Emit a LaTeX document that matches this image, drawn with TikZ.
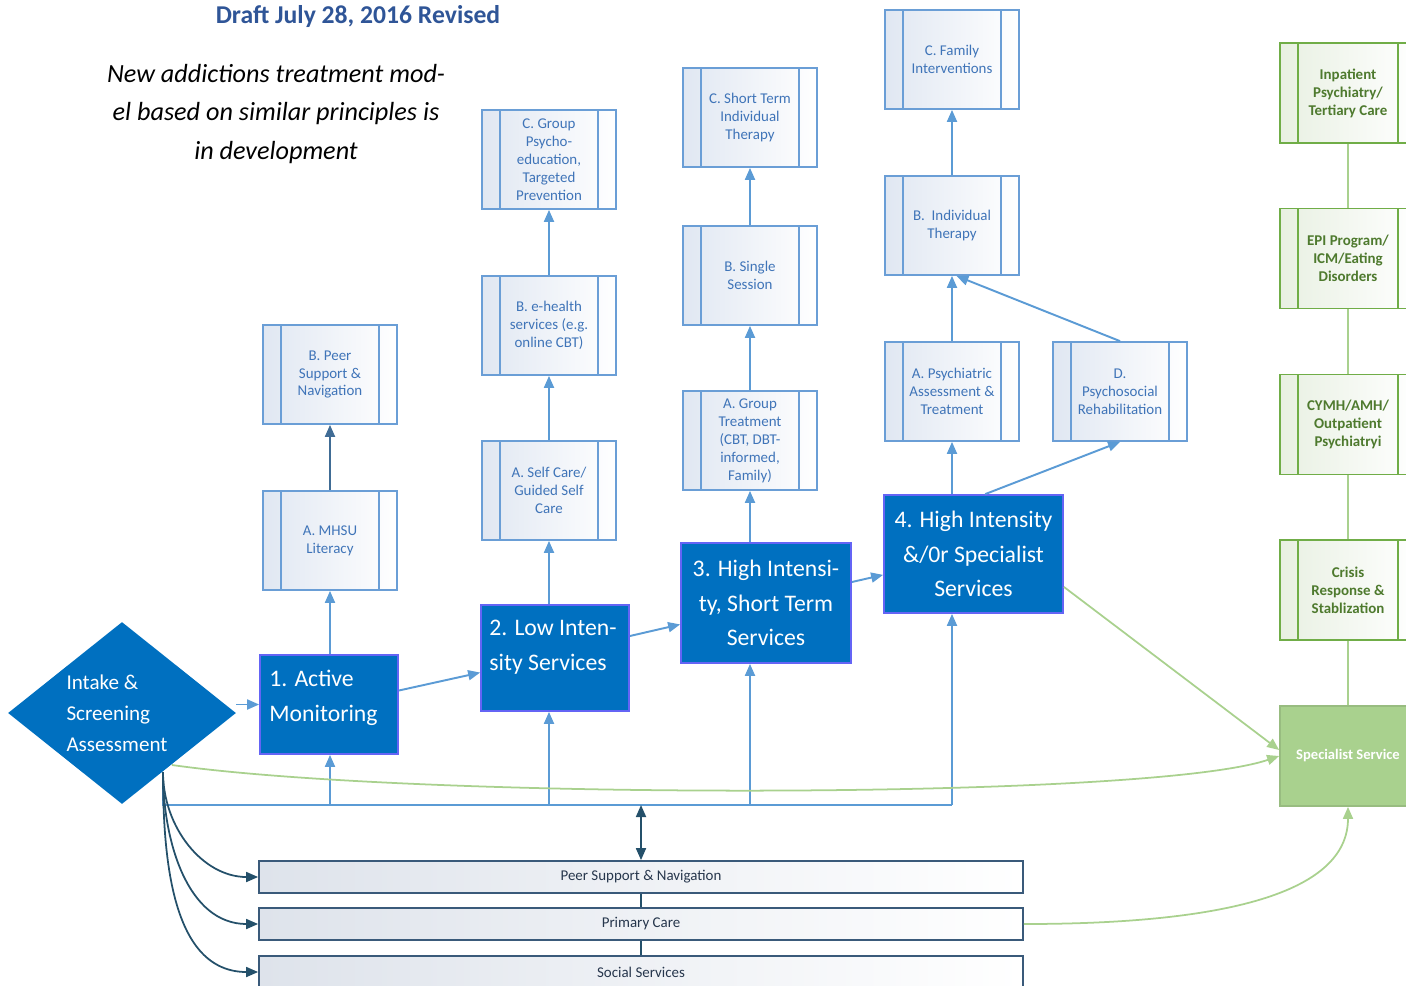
\documentclass[tikz,border=0pt]{standalone}
\usepackage{fontspec}
\setmainfont{Carlito}
\usetikzlibrary{shapes.geometric,arrows.meta}
\definecolor{stageblue}{HTML}{0070C0}
\definecolor{stageedge}{HTML}{6464F5}
\definecolor{linkblue}{HTML}{5B9BD5}
\definecolor{subedge}{HTML}{6A9ED6}
\definecolor{subtext}{HTML}{3F74B8}
\definecolor{subfill}{HTML}{E0E7F2}
\definecolor{grnedge}{HTML}{70AD47}
\definecolor{grntext}{HTML}{4E7A2E}
\definecolor{grnlink}{HTML}{A9D18E}
\definecolor{grnfill}{HTML}{E8F0E2}
\definecolor{baredge}{HTML}{3A5A7A}
\definecolor{bartext}{HTML}{26364C}
\definecolor{barfill}{HTML}{DEE3EB}
\definecolor{darklink}{HTML}{24506A}
\definecolor{titleblue}{HTML}{2F5597}
\tikzset{
  stage/.style={draw=stageedge, line width=1pt, fill=stageblue, text=white,
    font=\fontsize{13.5}{19.8}\selectfont, inner sep=0pt},
  stagetext/.style={text=white, font=\fontsize{13.5}{19.8}\selectfont, inner sep=0pt, align=left, anchor=west},
  subbox/.style={draw=subedge, line width=1pt, left color=subfill, right color=white,
    text=subtext, font=\fontsize{8.5}{10.2}\selectfont, align=center, inner sep=0pt,
    minimum width=26.8mm, minimum height=19.8mm,
    path picture={\draw[subedge, line width=1pt]
      ([xshift=3.6mm]path picture bounding box.north west) -- ([xshift=3.6mm]path picture bounding box.south west)
      ([xshift=-3.6mm]path picture bounding box.north east) -- ([xshift=-3.6mm]path picture bounding box.south east);}},
  grnbox/.style={draw=grnedge, line width=1pt, left color=grnfill, right color=white,
    text=grntext, font=\fontsize{8.5}{10.2}\selectfont\bfseries, align=center, inner sep=0pt,
    minimum width=27.2mm, minimum height=20mm,
    path picture={\draw[grnedge, line width=1pt]
      ([xshift=3.6mm]path picture bounding box.north west) -- ([xshift=3.6mm]path picture bounding box.south west)
      ([xshift=-3.6mm]path picture bounding box.north east) -- ([xshift=-3.6mm]path picture bounding box.south east);}},
  bar/.style={draw=baredge, line width=1pt, left color=barfill, right color=white,
    text=bartext, font=\fontsize{8.5}{10.2}\selectfont, inner sep=0pt,
    minimum width=152.8mm, minimum height=6.4mm},
  link/.style={draw=linkblue, line width=1.1pt},
  arr/.style={link, -{Triangle[length=2.4mm,width=2mm]}},
  darr/.style={draw=darklink, line width=1pt, -{Triangle[length=2.4mm,width=2mm]}},
  garr/.style={draw=grnlink, line width=1pt, -{Triangle[length=2.4mm,width=2mm]}}
}
\begin{document}
\begin{tikzpicture}[x=0.2mm, y=-0.2mm]
\clip (0,0) rectangle (1406,985);

\node[font=\fontsize{14.6}{17}\selectfont\bfseries, text=titleblue] (title) at (358,17) {Draft July 28, 2016 Revised};
\node[font=\fontsize{14.9}{22}\selectfont\itshape, align=center] (note) at (276,114)
  {New addictions treatment mod-\\el based on similar principles is\\in development};

\node[diamond, fill=stageblue, minimum width=45.6mm, minimum height=36.4mm, inner sep=0pt] (intake) at (122,713) {};
\node[font=\fontsize{12}{17.6}\selectfont, text=white, align=left] (intaketext) at (117,713)
  {Intake \&\\Screening\\Assessment};
\coordinate (tap) at (163,772);
\coordinate (tapg) at (172,765);
\coordinate (bus) at (0,805);

\node[stage, minimum width=27.6mm, minimum height=19.8mm] (act) at (329,704.5) {};
\node[stagetext] (acttext) at (269,697.5) {1. Active\\Monitoring};
\node[stage, minimum width=29.6mm, minimum height=21.2mm] (low) at (555,658) {};
\node[stagetext] (lowtext) at (489,647) {2. Low Inten-\\sity Services};
\node[stage, minimum width=34mm, minimum height=24mm, align=center] (mid) at (766,603) {3. High Intensi-\\ty, Short Term\\Services};
\node[stage, minimum width=35.8mm, minimum height=23.6mm, align=center] (hi) at (973.5,554) {4. High Intensity\\\&/0r Specialist\\Services};

\node[subbox] (mhsu) at (330,540.5) {A. MHSU\\Literacy};
\node[subbox] (peerB) at (330,374.5) {B. Peer\\Support \&\\Navigation};

\node[subbox] (self) at (549,490.5) {A. Self Care/\\Guided Self\\Care};
\node[subbox] (ehealth) at (549,325.5) {B. e-health\\services (e.g.\\online CBT)};
\node[subbox] (psyed) at (549,159.5) {C. Group\\Psycho-\\education,\\Targeted\\Prevention};

\node[subbox] (grpA) at (750,440.5) {A. Group\\Treatment\\(CBT, DBT-\\informed,\\Family)};
\node[subbox] (single) at (750,275.5) {B. Single\\Session};
\node[subbox] (shortC) at (750,117.5) {C. Short Term\\Individual\\Therapy};

\node[subbox] (psyA) at (952,391.5) {A. Psychiatric\\Assessment \&\\Treatment};
\node[subbox] (indB) at (952,225.5) {B.\ \ Individual\\Therapy};
\node[subbox] (famC) at (952,59.5) {C. Family\\Interventions};
\node[subbox] (psyD) at (1120,391.5) {D.\\Psychosocial\\Rehabilitation};

\node[grnbox] (inpat) at (1348,93) {Inpatient\\Psychiatry/\\Tertiary Care};
\node[grnbox] (epi) at (1348,258.5) {EPI Program/\\ICM/Eating\\Disorders};
\node[grnbox] (cymh) at (1348,424.5) {CYMH/AMH/\\Outpatient\\Psychiatryi};
\node[grnbox] (crisis) at (1348,590) {Crisis\\Response \&\\Stablization};
\node[draw=grnlink!90!black, line width=1pt, fill=grnlink, text=white, font=\fontsize{8.3}{10}\selectfont\bfseries,
  minimum width=27.2mm, minimum height=20mm, inner sep=0pt] (spec) at (1348,756) {Specialist Service};

\node[bar] (peer) at (641,877) {Peer Support \& Navigation};
\node[bar] (prim) at (641,924) {Primary Care};
\node[bar] (soc) at (641,972) {Social Services};

\draw[arr] (intake.east |- act.west) -- (act.west);
\draw[arr] (act.east) ++(0,-14) -- (low.191);
\draw[arr] (low.east) ++(0,-22) -- (mid.194);
\draw[arr] (mid.east) ++(0,-21) -- (hi.193);

\draw[arr] (mhsu.south |- act.north) -- (mhsu.south);
\draw[arr, draw=linkblue!70!black] (mhsu.north) -- (peerB.south);
\draw[arr] (self.south |- low.north) -- (self.south);
\draw[arr] (self.north) -- (ehealth.south);
\draw[arr] (ehealth.north) -- (psyed.south);
\draw[arr] (grpA.south |- mid.north) -- (grpA.south);
\draw[arr] (grpA.north) -- (single.south);
\draw[arr] (single.north) -- (shortC.south);
\draw[arr] (psyA.south |- hi.north) -- (psyA.south);
\draw[arr] (psyA.north) -- (indB.south);
\draw[arr] (indB.north) -- (famC.south);
\draw[arr] (hi.79) -- (psyD.south);
\draw[arr] (psyD.north) -- (indB.-85);

\draw[link] (tap) |- (psyA.south |- bus);
\draw[arr] (mhsu.south |- bus) -- (act.south -| mhsu.south);
\draw[arr] (self.south |- bus) -- (low.south -| self.south);
\draw[arr] (grpA.south |- bus) -- (mid.south -| grpA.south);
\draw[arr] (psyA.south |- bus) -- (hi.south -| psyA.south);
\draw[darr, {Triangle[length=2.4mm,width=2mm]}-{Triangle[length=2.4mm,width=2mm]}] (peer.north |- bus) -- (peer.north);

\draw[draw=darklink, line width=1pt] (peer.south) -- (prim.north) (prim.south) -- (soc.north);
\draw[darr] (tap) to[out=-90, in=180] (peer.west);
\draw[darr] (tap) to[out=-90, in=180] (prim.west);
\draw[darr] (tap) to[out=-90, in=180] (soc.west);

\draw[grnlink, line width=1pt] (inpat.south) -- (epi.north) (epi.south) -- (cymh.north)
  (cymh.south) -- (crisis.north) (crisis.south) -- (spec.north);
\draw[garr] (tapg) .. controls (420,800) and (1150,800) .. (spec.west);
\draw[garr] (hi.-20) -- (spec.175);
\draw[garr] (prim.east) .. controls (1250,924) and (1348,885) .. (spec.south);
\end{tikzpicture}
\end{document}
